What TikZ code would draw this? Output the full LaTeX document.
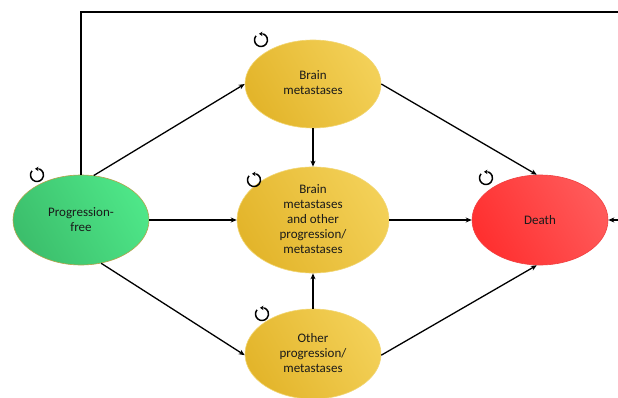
\documentclass[tikz,border=0pt]{standalone}
\usepackage{fontspec}
\setmainfont{Carlito}
\usetikzlibrary{arrows.meta,shapes.geometric}
\definecolor{gA}{HTML}{3CBF6C}
\definecolor{gB}{HTML}{4EE688}
\definecolor{gE}{HTML}{B5A24A}
\definecolor{yA}{HTML}{E3B52B}
\definecolor{yB}{HTML}{F3D057}
\definecolor{yE}{HTML}{F2D672}
\definecolor{rA}{HTML}{FF3030}
\definecolor{rB}{HTML}{FF5A5A}
\definecolor{rE}{HTML}{F04040}
\definecolor{txt}{HTML}{1A1A1A}
\tikzset{
  state/.style={ellipse, minimum width=136pt, minimum height=90pt, inner sep=0pt,
    align=center, font=\fontsize{13}{15}\selectfont, text=txt, line width=0.6pt},
  gstate/.style={state, draw=gE, shading=axis, left color=gA, right color=gB, shading angle=120},
  ystate/.style={state, draw=yE, shading=axis, left color=yA, right color=yB, shading angle=120},
  rstate/.style={state, draw=rE, shading=axis, left color=rA, right color=rB, shading angle=120},
  conn/.style={line width=1.3pt, -{Stealth[length=6pt,width=5pt]}},
  loopc/.style={line width=1.5pt},
  looptip/.style={line width=1.2pt, -{Stealth[length=3.5pt,width=4.5pt]}}
}
\begin{document}
\begin{tikzpicture}[x=1pt,y=1pt]
\clip (0,0) rectangle (618,397);
\fill[white] (0,0) rectangle (618,397);
\node[gstate] (PF) at (81,177) {Progression-\\free};
\node[ystate, minimum height=88pt] (BM) at (313,313) {\raisebox{4pt}{\begin{tabular}{@{}c@{}}Brain\\metastases\end{tabular}}};
\node[ystate, minimum width=152pt, minimum height=92pt] (BMO) at (313,177) {\raisebox{3pt}{\begin{tabular}{@{}c@{}}Brain\\metastases\\and other\\progression/\\metastases\end{tabular}}};
\node[ystate] (OP) at (313,43) {\raisebox{-3pt}{\begin{tabular}{@{}c@{}}Other\\progression/\\metastases\end{tabular}}};
\node[rstate] (D) at (540,177) {Death};
\coordinate (c1) at (81,385);
\coordinate (c2) at (640,385);
\coordinate (c3) at (640,177);
\draw[conn] (PF.north) -- (c1) -- (c2) -- (c3) -- (D.east);
\draw[conn] (PF.74) -- (BM.180);
\draw[conn] (PF.east) -- (BMO.west);
\draw[conn] (PF.-65) -- (OP.181);
\draw[conn] (BM.south) -- (BMO.north);
\draw[conn] (OP.north) -- (BMO.south);
\draw[conn] (BM.0) -- (D.94);
\draw[conn] (BMO.east) -- (D.west);
\draw[conn] (OP.-1) -- (D.-94);
\foreach \n/\x/\y in {l1/37/222, l2/261/357, l3/254/217, l4/486/219, l5/262/83}{
  \coordinate (\n) at (\x,\y);
  \draw[loopc] ([shift={(140:6.5)}]\n) arc[start angle=140, end angle=430, radius=6.5];
  \draw[looptip] ([shift={(70:6.5)}]\n) -- ([shift={(108:6.5)}]\n);
}
\end{tikzpicture}
\end{document}
